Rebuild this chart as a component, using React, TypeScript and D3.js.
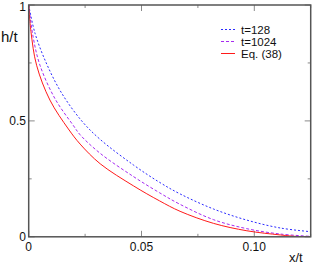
import React from "react";
import * as d3 from "d3";

// values: [x/t, h/t]
const t128: [number, number][] = [
  [0, 1], [0.0028, 0.878], [0.008, 0.745], [0.0146, 0.62], [0.0235, 0.5],
  [0.0317, 0.42], [0.0464, 0.31], [0.058, 0.235], [0.0671, 0.185],
  [0.0819, 0.12], [0.0967, 0.072], [0.1115, 0.038], [0.125, 0.022],
];
const t1024: [number, number][] = [
  [0, 1], [0.002, 0.86], [0.005, 0.74], [0.0117, 0.595], [0.0198, 0.48],
  [0.0228, 0.44], [0.0317, 0.36], [0.0464, 0.26], [0.058, 0.19],
  [0.0671, 0.14], [0.0819, 0.074], [0.0967, 0.035], [0.1115, 0.012], [0.125, 0.002],
];
const eq38: [number, number][] = [
  [0, 1], [0.001, 0.885], [0.0035, 0.74], [0.0094, 0.59], [0.0176, 0.465],
  [0.0228, 0.4], [0.0317, 0.315], [0.0464, 0.22], [0.058, 0.155],
  [0.0671, 0.11], [0.0819, 0.058], [0.0967, 0.026], [0.1115, 0.008],
  [0.1195, 0.001], [0.125, 0],
];

const xMajor = [0, 0.05, 0.1];
const xMajorLabels = ["0", "0.05", "0.10"];
const xMinor = [0.025, 0.075, 0.125];
const yMajor = [0, 0.5, 1];
const yMajorLabels = ["0", "0.5", "1"];
const yMinor = [0.25, 0.75];

const legendNames = ["t=128", "t=1024", "Eq. (38)"];

const W = 312;
const H = 263;
const left = 28.7;
const right = 310.7;
const top = 5;
const bottom = 236.8;

const font = "'Liberation Sans', Arial, sans-serif";

export default function App() {
  const x = d3.scaleLinear().domain([0, 0.125]).range([left, right]);
  const y = d3.scaleLinear().domain([0, 1]).range([bottom, top]);

  const line = d3
    .line<[number, number]>()
    .x((d) => x(d[0]))
    .y((d) => y(d[1]))
    .curve(d3.curveCatmullRom.alpha(0.5));

  const series = [
    { data: t128, color: "#2a2aff", dash: "2,2" },
    { data: t1024, color: "#a62af0", dash: "3,2" },
    { data: eq38, color: "#ff1a1a", dash: undefined },
  ];

  const tickColor = "#8a8a8a";
  const legendY = [29.5, 41.5, 53.5];

  return (
    <svg
      width={W}
      height={H}
      style={{ position: "absolute", left: 0, top: 0, background: "white" }}
      fontFamily={font}
    >
      <defs>
        <clipPath id="plot">
          <rect x={left} y={top} width={right - left} height={bottom - top} />
        </clipPath>
      </defs>

      {/* ticks, inward on all four sides */}
      {xMajor.map((v) => (
        <g key={"xM" + v} stroke={tickColor} strokeWidth={1}>
          <line x1={x(v)} x2={x(v)} y1={bottom} y2={bottom - 6} />
          <line x1={x(v)} x2={x(v)} y1={top} y2={top + 6} />
        </g>
      ))}
      {xMinor.map((v) => (
        <g key={"xm" + v} stroke={tickColor} strokeWidth={1}>
          <line x1={x(v)} x2={x(v)} y1={bottom} y2={bottom - 3} />
          <line x1={x(v)} x2={x(v)} y1={top} y2={top + 3} />
        </g>
      ))}
      {yMajor.map((v) => (
        <g key={"yM" + v} stroke={tickColor} strokeWidth={1}>
          <line x1={left} x2={left + 6} y1={y(v)} y2={y(v)} />
          <line x1={right} x2={right - 6} y1={y(v)} y2={y(v)} />
        </g>
      ))}
      {yMinor.map((v) => (
        <g key={"ym" + v} stroke={tickColor} strokeWidth={1}>
          <line x1={left} x2={left + 3} y1={y(v)} y2={y(v)} />
          <line x1={right} x2={right - 3} y1={y(v)} y2={y(v)} />
        </g>
      ))}

      <g clipPath="url(#plot)">
        {series.map((s, i) => (
          <path
            key={i}
            d={line(s.data) || ""}
            fill="none"
            stroke={s.color}
            strokeWidth={1}
            strokeDasharray={s.dash}
          />
        ))}
      </g>

      {/* frame */}
      <rect
        x={left}
        y={top}
        width={right - left}
        height={bottom - top}
        fill="none"
        stroke="#555"
        strokeWidth={1.5}
      />

      {/* tick labels */}
      {xMajor.map((v, i) => (
        <text key={"xl" + v} x={x(v)} y={251} fontSize={12} textAnchor="middle" fill="#111">
          {xMajorLabels[i]}
        </text>
      ))}
      {yMajor.map((v, i) => (
        <text
          key={"yl" + v}
          x={26}
          y={Math.max(y(v) + 4.3, 10.5)}
          fontSize={12}
          textAnchor="end"
          fill="#111"
        >
          {yMajorLabels[i]}
        </text>
      ))}

      {/* axis titles */}
      <text x={1} y={41.5} fontSize={15} fill="#111">h/t</text>
      <text x={289} y={261.5} fontSize={13} fill="#111">x/t</text>

      {/* legend */}
      {series.map((s, i) => (
        <g key={"lg" + i}>
          <line
            x1={221}
            x2={235}
            y1={legendY[i]}
            y2={legendY[i]}
            stroke={s.color}
            strokeWidth={1}
            strokeDasharray={s.dash}
          />
          <text x={241} y={legendY[i] + 4} fontSize={11.5} fill="#111">
            {legendNames[i]}
          </text>
        </g>
      ))}
    </svg>
  );
}
